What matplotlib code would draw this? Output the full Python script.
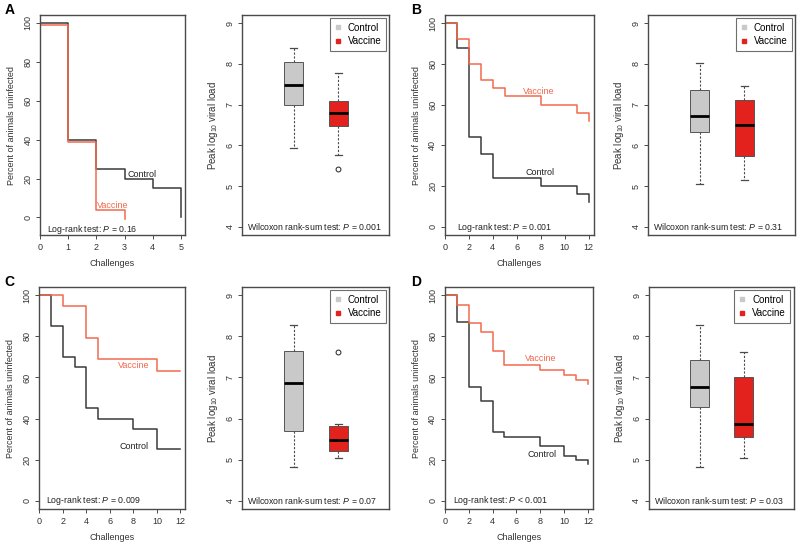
import numpy as np
import matplotlib
matplotlib.use("Agg")
import matplotlib.pyplot as plt
from matplotlib.lines import Line2D

plt.rcParams['font.family'] = ['Liberation Sans', 'DejaVu Sans']
plt.rcParams['mathtext.fontset'] = 'custom'
plt.rcParams['mathtext.rm'] = 'Liberation Sans'
plt.rcParams['mathtext.it'] = 'Liberation Sans:italic'
plt.rcParams['font.size'] = 6

# ---- survival curves (percent uninfected vs challenge number) ----
ctrl_a_t = [0, 1, 2, 3, 4, 5]
ctrl_a_s = [100, 40, 25, 20, 15, 0]
vacc_a_t = [0, 1, 2, 3]
vacc_a_s = [99, 39, 4, -1]

ctrl_b_t = [0, 1, 2, 3, 4, 8, 11, 12]
ctrl_b_s = [100, 88, 44, 36, 24, 20, 16, 12]
vacc_b_t = [0, 1, 2, 3, 4, 5, 8, 11, 12]
vacc_b_s = [100, 92, 80, 72, 68, 64, 60, 56, 52]

ctrl_c_t = [0, 1, 2, 3, 4, 5, 8, 10, 12]
ctrl_c_s = [100, 85, 70, 65, 45, 40, 35, 25, 25]
vacc_c_t = [0, 2, 4, 5, 10, 12]
vacc_c_s = [100, 95, 79, 69, 63, 63]

ctrl_d_t = [0, 1, 2, 3, 4, 5, 8, 10, 11, 12]
ctrl_d_s = [100, 87, 55.5, 48.5, 33.5, 31, 26.5, 22, 20, 18]
vacc_d_t = [0, 1, 2, 3, 4, 5, 8, 10, 11, 12]
vacc_d_s = [100, 95.5, 86.5, 82, 73, 66, 63.5, 61, 59, 57]

logrank_labels = ["0.16", "0.001", "0.009", "< 0.001"]

# ---- peak viral load boxplots: whislo, q1, median, q3, whishi, outliers ----
box_ctrl_a = [5.93, 6.98, 7.49, 8.04, 8.39, []]
box_vacc_a = [5.77, 6.48, 6.79, 7.10, 7.77, [5.42]]
box_ctrl_b = [5.05, 6.32, 6.71, 7.35, 8.02, []]
box_vacc_b = [5.16, 5.75, 6.49, 7.12, 7.45, []]
box_ctrl_c = [4.82, 5.70, 6.87, 7.65, 8.27, []]
box_vacc_c = [5.04, 5.20, 5.47, 5.81, 5.86, [7.61]]
box_ctrl_d = [4.82, 6.29, 6.76, 7.43, 8.27, []]
box_vacc_d = [5.04, 5.55, 5.88, 7.00, 7.61, []]

wilcoxon_labels = ["0.001", "0.31", "0.07", "0.03"]

CTRL_LINE = '#3a3a3a'
VACC_LINE = '#f2694e'
CTRL_BOX = '#c9c9c9'
VACC_BOX = '#e3221e'
FRAME = '#4a4a4a'


def style_axes(ax):
    for sp in ax.spines.values():
        sp.set_color(FRAME)
        sp.set_linewidth(1.0)
    ax.tick_params(direction='out', length=3, width=0.7, color=FRAME,
                   labelcolor='#333333', labelsize=6.5, pad=2.5)
    for lab in ax.get_yticklabels():
        lab.set_rotation(90)
        lab.set_va('center')


def km_panel(ax, ct, cs, vt, vs, xmax, xticks, ymin, txt):
    ax.step(ct, cs, where='post', color=CTRL_LINE, lw=1.1)
    ax.step(vt, vs, where='post', color=VACC_LINE, lw=1.1)
    ax.set_xlim(0, xmax)
    ax.set_ylim(ymin, 104)
    ax.set_xticks(xticks)
    ax.set_yticks([0, 20, 40, 60, 80, 100])
    ax.set_xlabel("Challenges", fontsize=6.5, color='#333333', labelpad=5)
    ax.set_ylabel("Percent of animals uninfected", fontsize=6.5,
                  color='#333333', labelpad=5.5)
    style_axes(ax)
    # curve labels and test result
    ax.text(txt[0][0], txt[0][1], "Control", color='#222222', fontsize=6.5,
            va='center')
    ax.text(txt[1][0], txt[1][1], "Vaccine", color=VACC_LINE, fontsize=6.5,
            va='center')
    ax.text(txt[2][0], txt[2][1], "Log-rank test: $P$ " +
            ("" if txt[3].startswith("<") else "= ") + txt[3],
            color='#222222', fontsize=6.3, va='center')


def box_panel(ax, ctrl, vacc, pval):
    stats = []
    for name, b in (("Control", ctrl), ("Vaccine", vacc)):
        stats.append(dict(label=name, whislo=b[0], q1=b[1], med=b[2],
                          q3=b[3], whishi=b[4], fliers=b[5]))
    res = ax.bxp(stats, positions=[1, 2], widths=0.42, patch_artist=True,
                 showfliers=True, capwidths=[0.17, 0.17],
                 medianprops=dict(color='black', lw=2.0),
                 whiskerprops=dict(color=FRAME, lw=0.8, ls=(0, (2, 1.5))),
                 capprops=dict(color=FRAME, lw=0.9),
                 flierprops=dict(marker='o', mfc='none', mec='#222222',
                                 ms=3.5, mew=0.7))
    for patch, fc in zip(res['boxes'], [CTRL_BOX, VACC_BOX]):
        patch.set_facecolor(fc)
        patch.set_edgecolor('#555555')
        patch.set_linewidth(0.7)
    ax.set_xlim(-0.15, 3.13)
    ax.set_ylim(3.8, 9.2)
    ax.set_xticks([])
    ax.set_yticks([4, 5, 6, 7, 8, 9])
    ax.set_ylabel("Peak log$_{10}$ viral load", fontsize=7,
                  color='#333333', labelpad=4)
    style_axes(ax)
    ax.text(0.035, 4.0, "Wilcoxon rank-sum test: $P$ = " + pval,
            transform=ax.get_yaxis_transform(), color='#222222',
            fontsize=6.3, va='center')
    handles = [Line2D([], [], marker='s', ls='none', color=CTRL_BOX, ms=3.5),
               Line2D([], [], marker='s', ls='none', color=VACC_BOX, ms=3.5)]
    leg = ax.legend(handles, ["Control", "Vaccine"], loc='upper right',
                    fontsize=7, frameon=True, fancybox=False,
                    handlelength=0.8, handletextpad=0.6, borderpad=0.45,
                    borderaxespad=0.35, labelspacing=0.35)
    leg.get_frame().set_edgecolor(FRAME)
    leg.get_frame().set_linewidth(0.8)


fig = plt.figure(figsize=(8, 5.44), dpi=100)

top_b, top_h = 0.568, 0.4044
bot_b, bot_h = 0.0643, 0.408

ax_a = fig.add_axes([0.050, top_b, 0.181, top_h])
ax_ab = fig.add_axes([0.3025, top_b, 0.184, top_h])
ax_b = fig.add_axes([0.556, top_b, 0.186, top_h])
ax_bb = fig.add_axes([0.810, top_b, 0.184, top_h])
ax_c = fig.add_axes([0.049, bot_b, 0.1825, bot_h])
ax_cb = fig.add_axes([0.3025, bot_b, 0.184, bot_h])
ax_d = fig.add_axes([0.556, bot_b, 0.185, bot_h])
ax_db = fig.add_axes([0.811, bot_b, 0.181, bot_h])

ticks12 = [0, 2, 4, 6, 8, 10, 12]
km_panel(ax_a, ctrl_a_t, ctrl_a_s, vacc_a_t, vacc_a_s, 5.14, [0, 1, 2, 3, 4, 5],
         -9, [(3.12, 22), (2.03, 6.3), (0.26, -6.2), logrank_labels[0]])
km_panel(ax_b, ctrl_b_t, ctrl_b_s, vacc_b_t, vacc_b_s, 12.4, ticks12,
         -4, [(6.7, 26.5), (6.5, 66.5), (1.0, -0.5), logrank_labels[1]])
km_panel(ax_c, ctrl_c_t, ctrl_c_s, vacc_c_t, vacc_c_s, 12.4, ticks12,
         -4, [(6.8, 26.5), (6.7, 66), (0.6, 0), logrank_labels[2]])
km_panel(ax_d, ctrl_d_t, ctrl_d_s, vacc_d_t, vacc_d_s, 12.4, ticks12,
         -4, [(6.9, 22.5), (6.7, 69), (0.65, 0), logrank_labels[3]])

box_panel(ax_ab, box_ctrl_a, box_vacc_a, wilcoxon_labels[0])
box_panel(ax_bb, box_ctrl_b, box_vacc_b, wilcoxon_labels[1])
box_panel(ax_cb, box_ctrl_c, box_vacc_c, wilcoxon_labels[2])
box_panel(ax_db, box_ctrl_d, box_vacc_d, wilcoxon_labels[3])

# panel letters
for lab, x, y in (("A", 0.006, 0.982), ("B", 0.514, 0.982),
                  ("C", 0.006, 0.481), ("D", 0.514, 0.481)):
    fig.text(x, y, lab, fontsize=10, fontweight='bold', va='center')

fig.savefig("out.png", dpi=100)
